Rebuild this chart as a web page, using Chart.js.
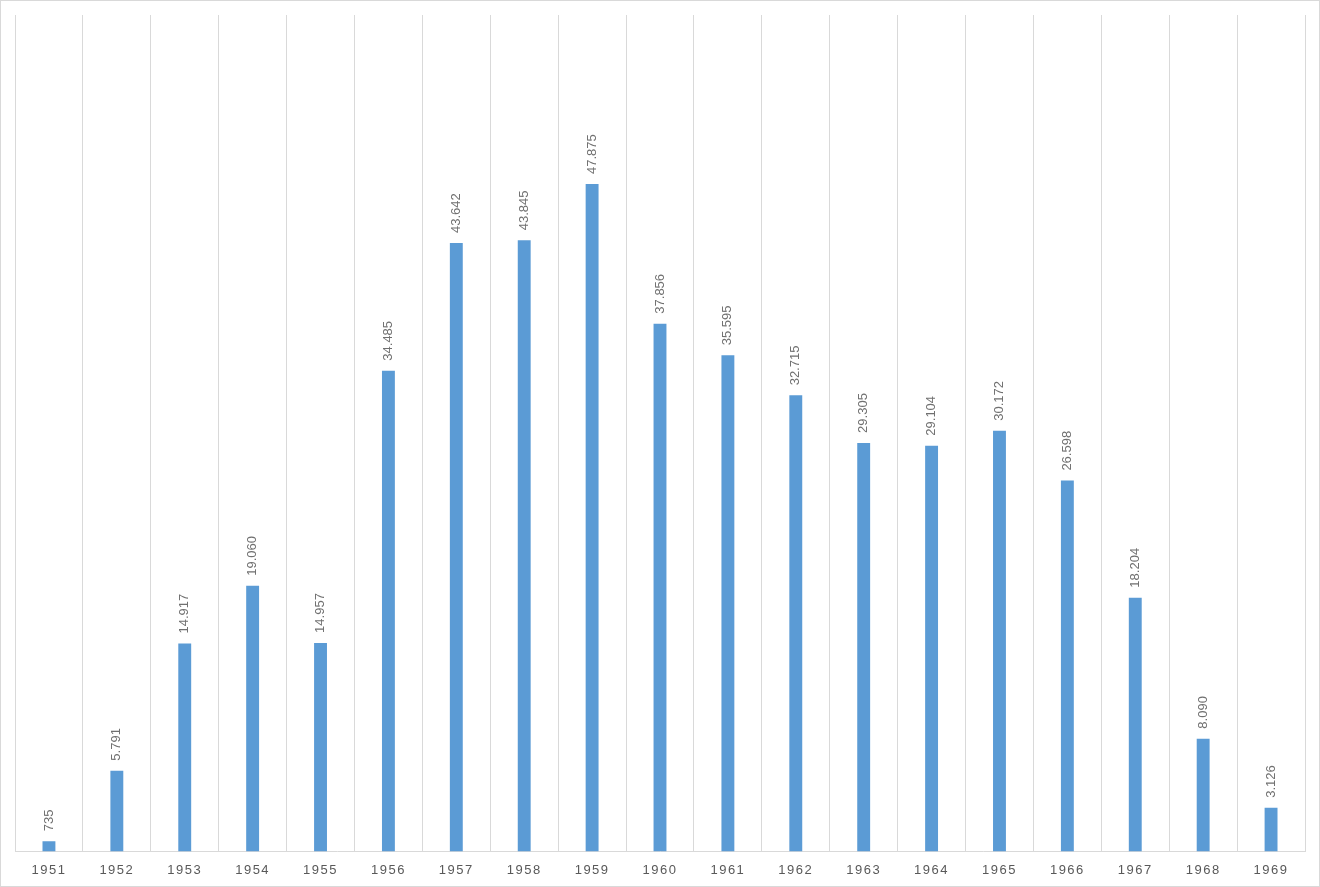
<!DOCTYPE html>
<html>
<head>
<meta charset="utf-8">
<title>1951–1969</title>
<script src="https://cdn.jsdelivr.net/npm/chart.js@4/dist/chart.umd.min.js"></script>
<style>
  html, body { margin: 0; padding: 0; background: #fff; }
  .wrap {
    width: 1320px; height: 887px;
    box-sizing: border-box;
    border: 1px solid #d9d9d9;
    position: relative;
  }
</style>
</head>
<body>
<div class="wrap"><canvas id="chart"></canvas></div>
<script>
// ── Data ─────────────────────────────────────
const years  = ['1951','1952','1953','1954','1955','1956','1957','1958','1959','1960',
                '1961','1962','1963','1964','1965','1966','1967','1968','1969'];
const values = [735, 5791, 14917, 19060, 14957, 34485, 43642, 43845, 47875, 37856,
                35595, 32715, 29305, 29104, 30172, 26598, 18204, 8090, 3126];

const BAR_COLOR  = '#5b9bd5';
const GRID_COLOR = '#d9d9d9';
const TEXT_COLOR = '#707070';

// thousands with a dot, e.g. 47.875
const fmt = (v) => String(v).replace(/\B(?=(\d{3})+(?!\d))/g, '.');

// ── Plugins ──────────────────────────────────
const spacing = {
  id: 'spacing',
  beforeDraw(chart) { chart.ctx.letterSpacing = '1.5px'; },
  afterDraw(chart)  { chart.ctx.letterSpacing = '0px'; },
};

const valueLabels = {
  id: 'valueLabels',
  afterDatasetsDraw(chart) {
    const { ctx } = chart;
    const meta = chart.getDatasetMeta(0);
    ctx.save();
    ctx.letterSpacing = '0px';
    ctx.font = '13px "Liberation Sans", Arial, sans-serif';
    ctx.fillStyle = TEXT_COLOR;
    ctx.textAlign = 'left';
    ctx.textBaseline = 'middle';
    meta.data.forEach((bar, i) => {
      ctx.save();
      ctx.translate(bar.x, bar.y - 10);
      ctx.rotate(-Math.PI / 2);
      ctx.fillText(fmt(values[i]), 0, 0);
      ctx.restore();
    });
    ctx.restore();
  },
};

// ── Chart ────────────────────────────────────
new Chart(document.getElementById('chart'), {
  type: 'bar',
  data: {
    labels: years,
    datasets: [{
      data: values,
      backgroundColor: BAR_COLOR,
      barPercentage: 0.95,
      categoryPercentage: 0.2,
    }],
  },
  options: {
    responsive: true, maintainAspectRatio: false,
    animation: false,
    layout: { padding: { left: 14, right: 14, top: 14, bottom: -3 } },
    plugins: { legend: { display: false }, tooltip: { enabled: false } },
    scales: {
      x: {
        offset: true,
        grid: { display: true, offset: true, color: GRID_COLOR, drawTicks: false },
        border: { display: true, color: GRID_COLOR },
        ticks: {
          color: '#595959', padding: 11, maxRotation: 0,
          font: { family: '"Liberation Sans", Arial, sans-serif', size: 13 },
        },
      },
      y: {
        display: false,
        min: 0, max: 60000,
        grid: { display: false },
      },
    },
  },
  plugins: [spacing, valueLabels],
});
</script>
</body>
</html>
